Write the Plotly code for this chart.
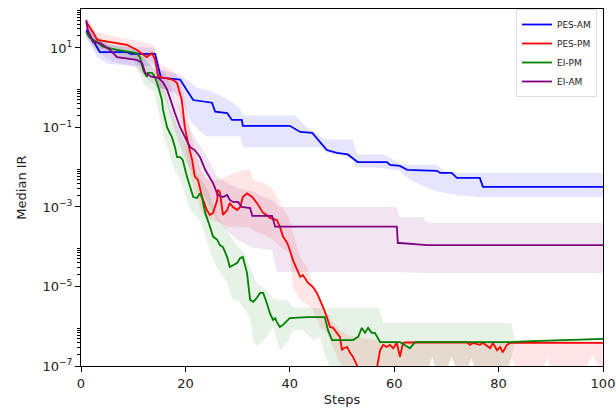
import plotly.graph_objects as go

# ---------------- data ----------------
# PES-AM (blue)
pes_am_x = [1, 1.7, 3.6, 8.8, 9.5, 14.2, 15.3, 19, 20.2, 21.5, 25.1, 25.7, 28, 28.9, 30.8, 31, 40, 42, 44.3,
            45.8, 47.1, 49, 51.1, 53, 58.6, 59.2, 61.1, 62.5, 68.2, 68.8, 71, 72, 76.4, 77, 100]
pes_am_y = [28, 21, 7.9, 7.9, 7.1, 7.1, 1.8, 1.6, 0.9, 0.49, 0.42, 0.25, 0.23, 0.155, 0.155, 0.11, 0.11, 0.077, 0.073,
            0.044, 0.027, 0.023, 0.021, 0.0135, 0.0135, 0.0114, 0.0108, 0.0086, 0.0081, 0.0072, 0.0072, 0.0054,
            0.0054, 0.0032, 0.0032]
pes_am_bx = [1, 3, 5, 10, 14, 15, 17, 19, 21, 22, 24, 26, 28.5, 30.5, 31, 33, 41, 43.3, 45.8, 47.1, 52, 52.5, 53,
             58, 61, 63, 67.4, 68, 70, 72, 76, 100]
pes_am_lo = [18, 6, 4, 3.5, 3.5, 1.0, 0.8, 0.6, 0.15, 0.1, 0.06, 0.06, 0.06, 0.06, 0.032, 0.032, 0.032, 0.032,
             0.032, 0.023, 0.018, 0.0103, 0.0100, 0.0094, 0.0081, 0.0048, 0.0026, 0.0025, 0.0022, 0.002, 0.00178,
             0.00178]
pes_am_hi = [40, 18, 12, 11, 10, 3.0, 2.5, 2.1, 1.4, 1.0, 0.9, 0.7, 0.49, 0.3, 0.2, 0.2, 0.2, 0.1, 0.06, 0.05,
             0.049, 0.03, 0.021, 0.021, 0.0128, 0.0114, 0.0114, 0.0114, 0.0077, 0.0072, 0.0072, 0.0072]

# PES-PM (red)
pes_pm_x = [1, 2.3, 3.1, 5.6, 8.8, 10.7, 12.6, 13.6, 14.2, 14.8, 16.1, 17.6, 18.4, 19.3, 19.9, 20.5, 21.3, 21.8,
            22.4, 23.2, 24.1, 24.7, 25.3, 26.1, 26.2, 26.6, 27, 27.2, 28, 28.5, 29.1, 29.9, 30.5, 31, 31.8, 32.8,
            33.7, 34.3, 34.9, 35.6, 36.2, 37.5, 38.1, 38.7, 39.5, 40, 40.6, 42, 42.5, 43.5, 44.4, 45.2, 45.8, 46.4,
            47.1, 47.7, 48.3, 49, 49.6, 50, 50.3, 51, 51.5, 52.1, 53.1, 56.7, 57.3, 57.9, 58.6, 59.2, 59.8, 60.5,
            61.1, 61.7, 62.1, 74, 74.5, 75.1, 76.4, 77, 78.4, 78.9, 79.7, 80.3, 80.8, 81.6, 82.2, 100]
pes_pm_y = [45, 25, 16, 14, 12, 8.9, 5.9, 7.4, 5.0, 1.87, 1.77, 1.58, 1.32, 0.49, 0.10, 0.041, 0.015, 0.0058,
            0.0048, 0.00178, 0.00084, 0.00063, 0.00071, 0.0015, 0.0027, 0.0024, 0.0010, 0.00063, 0.00084, 0.00126,
            0.0010, 0.00084, 0.0010, 0.00178, 0.0022, 0.00178, 0.00126, 0.00094, 0.00071, 0.00063, 0.00053,
            0.00047, 0.00032, 0.00018, 0.000124, 8.3e-5, 4.6e-5, 1.74e-5, 1.95e-5, 1.23e-5, 9.8e-6, 6.9e-6, 4.6e-6,
            3.0e-6, 1.7e-6, 9.6e-7, 9.1e-7, 6.8e-7, 5.4e-7, 2.5e-7, 2.8e-7, 3.0e-7, 2.2e-7, 1.7e-7, 9e-8, 9e-8,
            2.5e-7, 3.4e-7, 3.0e-7, 3.4e-7, 2.8e-7, 3.8e-7, 1.7e-7, 3.8e-7, 3.9e-7, 3.9e-7, 3.4e-7, 3.8e-7, 3.4e-7,
            3.8e-7, 2.8e-7, 3.8e-7, 2.5e-7, 3.0e-7, 2.2e-7, 3.4e-7, 3.8e-7, 3.8e-7]
pes_pm_bx = [1, 3, 6, 10, 12, 14, 15, 18, 19, 20, 21, 22, 23, 24, 25, 26.6, 28, 31, 32.4, 33, 35, 36.8, 38.1, 40,
             40.6, 42, 43.3, 44.4, 45.8, 47.1, 48.3, 49.6, 51, 54, 58, 66.5, 67.3, 68, 70, 71, 72, 74, 74.8, 75.5,
             81.8, 82.5, 83.5, 88.5, 89.3, 90, 96.5, 98, 99.5, 100]
pes_pm_lo = [30, 10, 9, 6, 5, 4, 1.0, 0.8, 0.2, 0.03, 0.006, 0.002, 0.0008, 0.0005, 0.00047, 0.0004, 0.00032,
             0.0003, 0.0003, 0.00025, 0.0002, 0.00015, 0.0001, 6.9e-5, 9.8e-6, 4.6e-6, 3.5e-6, 2.6e-6, 9.6e-7,
             6.8e-7, 3e-7, 1.2e-7, 8e-8, 8e-8, 8e-8, 8e-8, 1.7e-7, 8e-8, 8e-8, 1.7e-7, 8e-8, 8e-8, 1.6e-7, 8e-8,
             8e-8, 1.7e-7, 8e-8, 8e-8, 1.7e-7, 8e-8, 8e-8, 1.8e-7, 8e-8, 8e-8]
pes_pm_hi = [60, 25, 20, 16, 14, 12, 4, 2.5, 1.5, 0.5, 0.08, 0.02, 0.008, 0.005, 0.005, 0.0048, 0.006, 0.0086,
             0.0086, 0.0048, 0.004, 0.0027, 0.00126, 0.00047, 0.00022, 5.5e-5, 3.1e-5, 1.23e-5, 4.6e-6, 2.1e-6,
             1.21e-6, 8.1e-7, 6e-7, 5e-7, 4.2e-7, 4.2e-7, 4.2e-7, 4.2e-7, 4.2e-7, 4.2e-7, 4.2e-7, 4.2e-7, 4.2e-7,
             4.2e-7, 4.2e-7, 4.2e-7, 4.2e-7, 4.2e-7, 4.2e-7, 4.2e-7, 4.2e-7, 4.2e-7, 4.2e-7, 4.2e-7]

# EI-PM (green)
ei_pm_x = [1, 1.7, 3.1, 4.2, 6.9, 10.7, 11.3, 11.9, 12.6, 12.8, 13.6, 14.2, 14.8, 15.5, 15.7, 16.5, 17, 17.4, 18,
           18.4, 19, 19.5, 20.3, 20.9, 21.5, 22.2, 22.8, 23.2, 23.8, 24.7, 25.3, 26.1, 26.6, 27.2, 28, 28.5, 29.9,
           30.5, 31, 31.8, 32.4, 33, 33.7, 34.3, 34.9, 35.6, 36.2, 36.8, 37.2, 37.5, 38.1, 38.7, 40, 43.3, 46.7,
           47.3, 48.1, 52.1, 53.1, 53.8, 54.4, 55, 55.7, 56.3, 57.3, 61.1, 62.5, 63, 64, 82.2, 86.6, 96.2, 100]
ei_pm_y = [25, 18, 14, 10.7, 8.9, 7.4, 5.9, 2.8, 1.87, 2.35, 2.35, 1.87, 1.05, 0.49, 0.28, 0.10, 0.073, 0.058,
           0.032, 0.018, 0.018, 0.015, 0.0058, 0.0032, 0.00178, 0.00168, 0.0022, 0.00168, 0.00071, 0.00032,
           0.00018, 0.00015, 0.00011, 9.8e-5, 5.5e-5, 3.1e-5, 3.9e-5, 5.2e-5, 5.5e-5, 2.2e-5, 4.6e-6, 4.1e-6,
           5.2e-6, 6.9e-6, 6.9e-6, 3.8e-6, 2.1e-6, 1.44e-6, 1.6e-6, 1.29e-6, 9.6e-7, 1.08e-6, 1.6e-6, 1.7e-6,
           1.7e-6, 8.1e-7, 4.5e-7, 4.5e-7, 5.4e-7, 9.1e-7, 6.8e-7, 9.1e-7, 6.8e-7, 6.8e-7, 4.0e-7, 4.0e-7, 3.0e-7,
           2.8e-7, 4.0e-7, 4.0e-7, 4.2e-7, 4.5e-7, 4.8e-7]
ei_pm_bx = [1, 3, 6, 10, 11, 12, 14, 15, 16, 17, 18, 19, 20, 21, 22, 23, 24, 25, 26, 27, 28, 29.1, 30, 31, 32.4,
            33, 33.7, 35.6, 36.8, 38.1, 39.5, 40.6, 42.5, 44.4, 45.8, 47, 48, 57, 58, 66.5, 67.3, 68, 70, 71, 72,
            74, 74.8, 75.5, 81.8, 82.5, 83, 86.6, 96.2, 100]
ei_pm_lo = [18, 10, 7, 5, 3, 1.2, 0.8, 0.2, 0.05, 0.02, 0.008, 0.005, 0.002, 0.0008, 0.0006, 0.0004, 0.00015,
            6e-5, 3e-5, 2e-5, 1.2e-5, 4.6e-6, 4.6e-6, 3e-6, 1.7e-6, 4.5e-7, 3e-7, 5.4e-7, 9.6e-7, 2.5e-7, 3.8e-7,
            8.1e-7, 8.1e-7, 4.5e-7, 5.4e-7, 1.5e-7, 8e-8, 8e-8, 8e-8, 8e-8, 1.7e-7, 8e-8, 8e-8, 1.7e-7, 8e-8,
            8e-8, 1.6e-7, 8e-8, 8e-8, 1.7e-7, 3.5e-7, 3.8e-7, 4.2e-7, 4.5e-7]
ei_pm_hi = [35, 20, 12, 10, 9, 6, 3, 2, 1, 0.3, 0.15, 0.08, 0.04, 0.02, 0.008, 0.005, 0.003, 0.0015, 0.0006,
            0.0004, 0.00025, 0.00015, 0.0001, 8e-5, 3e-5, 2e-5, 1.2e-5, 8e-6, 5e-6, 4.6e-6, 4.6e-6, 3e-6, 2.9e-6,
            2.9e-6, 2.9e-6, 2.9e-6, 2.9e-6, 2.9e-6, 1.21e-6, 1.21e-6, 1.21e-6, 1.21e-6, 1.21e-6, 1.21e-6, 1.21e-6,
            1.21e-6, 1.21e-6, 1.21e-6, 1.21e-6, 1.21e-6, 4.5e-7, 4.5e-7, 4.8e-7, 5e-7]

# EI-AM (purple)
ei_am_x = [1, 1.3, 2.3, 3.6, 5.6, 6.9, 10.7, 11.7, 12.3, 13.6, 14.8, 15.7, 16.5, 17, 17.4, 18, 19, 19.9, 20.9,
           21.8, 22.8, 23.8, 24.3, 25.3, 26.2, 27.2, 28, 28.5, 29.1, 30.1, 30.8, 32.4, 32.8, 36.6, 37.2, 60.5,
           60.7, 61.1, 66.3, 100]
ei_am_y = [50, 28, 14, 13.4, 8.9, 5.9, 5.0, 4.2, 2.35, 1.87, 1.77, 1.39, 0.89, 0.59, 0.42, 0.23, 0.10, 0.058,
           0.032, 0.027, 0.018, 0.0086, 0.0065, 0.0040, 0.0020, 0.00178, 0.0020, 0.0015, 0.00134, 0.00134, 0.0010,
           0.00094, 0.0006, 0.0006, 0.00032, 0.00032, 0.000124, 0.000124, 0.00011, 0.00011]
ei_am_bx = [1, 3, 6, 10, 12, 14, 16, 18, 20, 22, 24, 26, 28, 30, 33, 34, 36.6, 37.5, 38, 60.5, 61, 65.5, 66.3, 100]
ei_am_lo = [20, 8, 4.5, 3.5, 2, 1.2, 0.6, 0.08, 0.015, 0.005, 0.0015, 0.0005, 0.00025, 0.00015, 9.3e-5, 9e-5,
            8.3e-5, 2.3e-5, 2.3e-5, 2.3e-5, 2.3e-5, 2.2e-5, 2.2e-5, 2.2e-5]
ei_am_hi = [60, 20, 10, 8, 5.5, 3, 2.5, 0.6, 0.15, 0.05, 0.02, 0.006, 0.004, 0.003, 0.0025, 0.002, 0.0015, 0.0012,
            0.001, 0.001, 0.00056, 0.00056, 0.0004, 0.0004]

series = [
    ("PES-AM", "#0000ff", "rgba(0,0,255,0.10)", pes_am_x, pes_am_y, pes_am_bx, pes_am_lo, pes_am_hi),
    ("PES-PM", "#ff0000", "rgba(255,0,0,0.10)", pes_pm_x, pes_pm_y, pes_pm_bx, pes_pm_lo, pes_pm_hi),
    ("EI-PM", "#008000", "rgba(0,128,0,0.10)", ei_pm_x, ei_pm_y, ei_pm_bx, ei_pm_lo, ei_pm_hi),
    ("EI-AM", "#800080", "rgba(128,0,128,0.10)", ei_am_x, ei_am_y, ei_am_bx, ei_am_lo, ei_am_hi),
]

x_ticks = [0, 20, 40, 60, 80, 100]
y_ticks = [1e-7, 1e-5, 1e-3, 1e-1, 1e1]
y_tick_text = ["10<sup>−7</sup>", "10<sup>−5</sup>", "10<sup>−3</sup>", "10<sup>−1</sup>", "10<sup>1</sup>"]
y_minor = [k * 10.0 ** e for e in (-7, -5, -3, -1, 1) for k in range(2, 10)]

# ---------------- figure ----------------
fig = go.Figure()

for name, col, fcol, x, y, bx, lo, hi in series:
    fig.add_trace(go.Scatter(x=bx, y=lo, mode="lines", line=dict(width=0, color=fcol),
                             showlegend=False, hoverinfo="skip"))
    fig.add_trace(go.Scatter(x=bx, y=hi, mode="lines", line=dict(width=0, color=fcol),
                             fill="tonexty", fillcolor=fcol, showlegend=False, hoverinfo="skip"))

for name, col, fcol, x, y, bx, lo, hi in series:
    fig.add_trace(go.Scatter(x=x, y=y, mode="lines", name=name,
                             line=dict(color=col, width=1.8)))

font = "DejaVu Sans, Arial, sans-serif"
fig.update_layout(
    width=616, height=414,
    margin=dict(l=81, r=13, t=9, b=48, autoexpand=False),
    paper_bgcolor="white", plot_bgcolor="white",
    font=dict(family=font, size=13, color="#222"),
    legend=dict(x=0.9885, xanchor="right", y=1.0, yanchor="top", traceorder="normal",
                bgcolor="rgba(255,255,255,0.8)", bordercolor="#dddddd", borderwidth=1,
                font=dict(size=9, color="#222"), itemwidth=30, tracegroupgap=0),
)
fig.update_xaxes(range=[0, 100], tickmode="array", tickvals=x_ticks, automargin=False,
                 showline=True, linecolor="black", linewidth=1, mirror=True,
                 ticks="outside", ticklen=5, tickwidth=1, tickcolor="black",
                 showgrid=False, zeroline=False,
                 title=dict(text="Steps", standoff=5, font=dict(size=13)))
fig.update_yaxes(type="log", range=[-7, 1.98], tickmode="array", tickvals=y_ticks, ticktext=y_tick_text,
                 automargin=False,
                 showline=True, linecolor="black", linewidth=1, mirror=True,
                 ticks="outside", ticklen=5, tickwidth=1, tickcolor="black",
                 minor=dict(tickmode="array", tickvals=y_minor, ticks="outside", ticklen=3,
                            tickwidth=0.8, tickcolor="black", showgrid=False),
                 showgrid=False, zeroline=False,
                 title=dict(text="Median IR", standoff=12, font=dict(size=13)))

fig.write_html("out.html")
